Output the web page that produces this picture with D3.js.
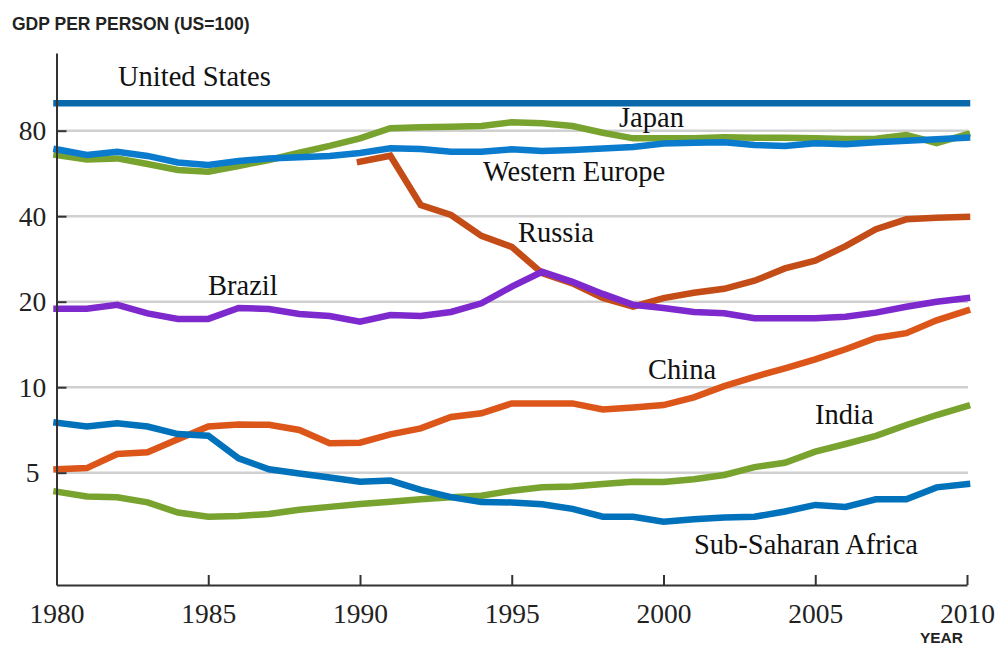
<!DOCTYPE html>
<html>
<head>
<meta charset="utf-8">
<script src="https://cdn.jsdelivr.net/npm/d3@7"></script>
<style>
  html, body { margin: 0; padding: 0; background: #fff; }
  svg { display: block; }
</style>
</head>
<body>
<svg id="chart" width="997" height="646"></svg>
<script>
const years = d3.range(1980, 2011);

const unitedStates = years.map(() => 100);
const japan = [65.7, 63.4, 63.9, 61.1, 58.2, 57.4, 60.1, 63.1, 66.9, 70.7,
  75.2, 81.6, 82.2, 82.6, 83.1, 85.6, 84.9, 83.1, 78.7, 75.2,
  75.2, 75.2, 75.8, 75.5, 75.6, 75.3, 74.8, 75.0, 77.3, 72.4, 77.7];
const westernEurope = [68.8, 65.7, 67.4, 65.2, 61.8, 60.6, 62.6, 63.9, 64.5, 65.2,
  66.8, 69.4, 69.0, 67.4, 67.5, 68.8, 67.8, 68.4, 69.3, 70.1,
  72.1, 72.6, 72.8, 71.3, 70.7, 72.2, 71.7, 72.8, 73.8, 74.7, 75.6];
const russia = [null, null, null, null, null, null, null, null, null, null,
  62.2, 65.3, 43.8, 40.4, 34.1, 31.2, 25.2, 23.2, 20.6, 19.2,
  20.6, 21.5, 22.2, 23.7, 26.2, 27.9, 31.4, 36.0, 39.0, 39.5, 39.8];
const brazil = [18.9, 18.9, 19.5, 18.2, 17.4, 17.4, 19.0, 18.85, 18.1, 17.8,
  17.0, 17.95, 17.8, 18.4, 19.75, 22.6, 25.5, 23.5, 21.3, 19.5,
  19.0, 18.4, 18.2, 17.5, 17.5, 17.5, 17.7, 18.3, 19.2, 20.0, 20.6];
const china = [5.14, 5.19, 5.82, 5.90, 6.56, 7.27, 7.39, 7.37, 7.07, 6.35,
  6.38, 6.82, 7.16, 7.86, 8.09, 8.77, 8.77, 8.77, 8.35, 8.49,
  8.65, 9.21, 10.09, 10.88, 11.65, 12.54, 13.6, 14.9, 15.5, 17.2, 18.6];
const india = [4.29, 4.12, 4.10, 3.93, 3.62, 3.50, 3.52, 3.58, 3.70, 3.79,
  3.88, 3.95, 4.03, 4.10, 4.15, 4.32, 4.44, 4.47, 4.56, 4.65,
  4.64, 4.74, 4.91, 5.23, 5.42, 5.93, 6.31, 6.74, 7.36, 7.98, 8.58];
const subSaharanAfrica = [7.50, 7.27, 7.47, 7.27, 6.84, 6.75, 5.62, 5.14, 4.97, 4.81,
  4.65, 4.69, 4.35, 4.10, 3.94, 3.93, 3.87, 3.73, 3.50, 3.50,
  3.36, 3.43, 3.48, 3.50, 3.65, 3.85, 3.79, 4.03, 4.03, 4.44, 4.56];

const yTicks = [5, 10, 20, 40, 80];
const xTicks = [1980, 1985, 1990, 1995, 2000, 2005, 2010];

const seriesNames = ["India", "China", "Sub-Saharan Africa", "Japan", "Western Europe", "Russia", "Brazil", "United States"];
const seriesValues = [india, china, subSaharanAfrica, japan, westernEurope, russia, brazil, unitedStates];
const seriesColors = ["#78a32f", "#dc5519", "#0071bb", "#78a32f", "#0a7bcd", "#c44d17", "#7e29cd", "#0868aa"];

const labels = [
  { text: "United States", x: 118, y: 86 },
  { text: "Japan", x: 619, y: 127 },
  { text: "Western Europe", x: 483, y: 181 },
  { text: "Russia", x: 518, y: 242 },
  { text: "Brazil", x: 208, y: 295 },
  { text: "China", x: 648, y: 379 },
  { text: "India", x: 815, y: 424 },
  { text: "Sub-Saharan Africa", x: 694, y: 554 }
];

const svg = d3.select("#chart");
const plotLeft = 56.5, plotRight = 967, plotTop = 53, plotBottom = 585;

const x = d3.scaleLinear().domain([1980, 2010]).range([plotLeft, plotRight]);
const y = d3.scaleLog().domain([5, 80]).range([472.7, 130.7]);
y.domain([y.invert(plotBottom), y.invert(plotTop)]).range([plotBottom, plotTop]);

const serif = "'Liberation Serif', 'Times New Roman', serif";
const sans = "'Liberation Sans', Arial, Helvetica, sans-serif";

// gridlines
svg.append("g").selectAll("line").data(yTicks).join("line")
  .attr("x1", plotLeft).attr("x2", 968)
  .attr("y1", d => y(d)).attr("y2", d => y(d))
  .attr("stroke", "#d0d0d0").attr("stroke-width", 2.5);

// series
const line = d3.line()
  .defined(d => d[1] != null)
  .x(d => x(d[0])).y(d => y(d[1]));

svg.append("g").selectAll("path").data(seriesValues).join("path")
  .attr("d", vals => line(years.map((yr, i) => [yr, vals[i]])))
  .attr("fill", "none")
  .attr("stroke", (d, i) => seriesColors[i])
  .attr("stroke-width", 6.5)
  .attr("stroke-linecap", "square")
  .attr("stroke-linejoin", "miter");

// axes
const yAxis = svg.append("g").attr("transform", `translate(${plotLeft},0)`)
  .call(d3.axisLeft(y).tickValues(yTicks).tickFormat(d3.format("d")).tickSize(-10).tickSizeOuter(0));
const xAxis = svg.append("g").attr("transform", `translate(0,${plotBottom})`)
  .call(d3.axisBottom(x).tickValues(xTicks).tickFormat(d3.format("d")).tickSize(-10).tickSizeOuter(0));

[yAxis, xAxis].forEach(a => {
  a.select(".domain").attr("stroke", "#333").attr("stroke-width", 2);
  a.selectAll(".tick line").attr("stroke", "#333").attr("stroke-width", 2);
  a.selectAll(".tick text").attr("fill", "#222")
    .style("font-family", serif).style("font-size", "27.5px");
});
yAxis.selectAll(".tick text").attr("x", -24).attr("text-anchor", "middle").attr("dy", "0.33em");
xAxis.selectAll(".tick text").attr("y", 38).attr("dy", 0);

// series labels
svg.append("g").selectAll("text").data(labels).join("text")
  .attr("x", d => d.x).attr("y", d => d.y)
  .text(d => d.text)
  .style("font-family", serif).style("font-size", "28.5px").attr("fill", "#111");

// titles
svg.append("text").attr("x", 12).attr("y", 30)
  .text("GDP PER PERSON (US=100)")
  .style("font-family", sans).style("font-weight", "bold").style("font-size", "17.5px").attr("fill", "#222");
svg.append("text").attr("x", 963).attr("y", 643).attr("text-anchor", "end")
  .text("YEAR")
  .style("font-family", sans).style("font-weight", "bold").style("font-size", "15.5px").attr("fill", "#222");
</script>
</body>
</html>
